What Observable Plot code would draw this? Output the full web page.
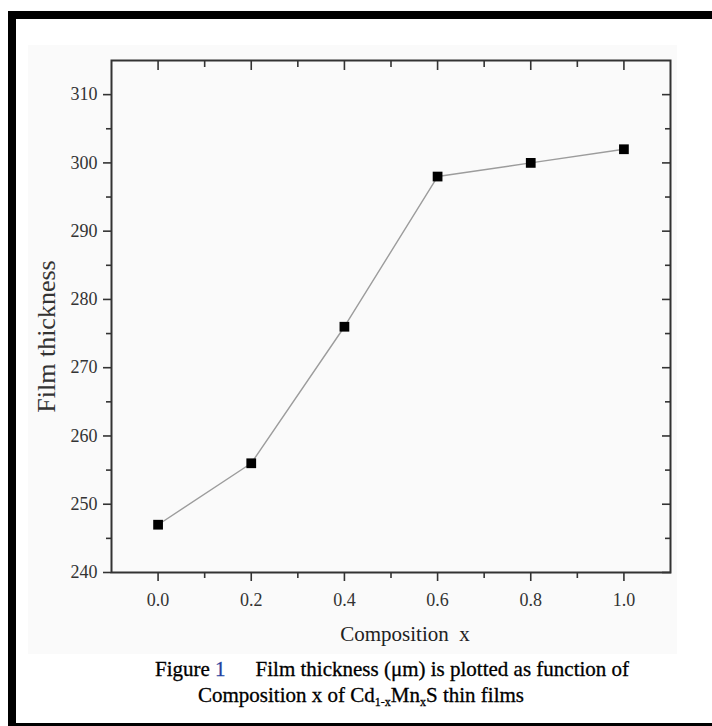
<!DOCTYPE html>
<html>
<head>
<meta charset="utf-8">
<script src="https://cdn.jsdelivr.net/npm/d3@7"></script>
<script src="https://cdn.jsdelivr.net/npm/@observablehq/plot@0.6"></script>
<style>
html, body { margin: 0; padding: 0; background: #fff; }
body { width: 712px; height: 726px; overflow: hidden; position: relative; font-family: "Liberation Serif", "Times New Roman", serif; }
#border { position: absolute; left: 8px; top: 11px; width: 800px; height: 704px; border-top: 8px solid #000; border-left: 8px solid #000; border-bottom: 8px solid #000; }
#paper { position: absolute; left: 28px; top: 45px; width: 649px; height: 609px; background: #fafafa; }
#chart { position: absolute; left: 0; top: 0; }
#chart text { white-space: pre; }
.cap { position: absolute; white-space: pre; font-size: 21px; line-height: 21px; color: #000; -webkit-text-stroke: 0.3px #000; }
.cap sub { font-size: 12px; line-height: 0; vertical-align: -4px; }
.blue { color: #1f3f9f; -webkit-text-stroke: 0.3px #1f3f9f; }
</style>
</head>
<body>
<div id="border"></div>
<div id="paper"></div>
<div id="chart"></div>
<div class="cap" id="cap1" style="left:155px; top:659px;">Figure <span class="blue">1</span><span style="margin-left:30px">Film thickness (μm) is plotted as function of</span></div>
<div class="cap" id="cap2" style="left:198px; top:685px;">Composition x of Cd<sub>1-x</sub>Mn<sub>x</sub>S thin films</div>
<script>
// ---- data ----
const compositionX = [0.0, 0.2, 0.4, 0.6, 0.8, 1.0];
const filmThickness = [247, 256, 276, 298, 300, 302];

// ---- ticks ----
const xMajorTicks = [0.0, 0.2, 0.4, 0.6, 0.8, 1.0];
const xTickLabels = ["0.0", "0.2", "0.4", "0.6", "0.8", "1.0"];
const xMinorTicks = [0.1, 0.3, 0.5, 0.7, 0.9];
const yMajorTicks = [240, 250, 260, 270, 280, 290, 300, 310];
const yTickLabels = ["240", "250", "260", "270", "280", "290", "300", "310"];
const yMinorTicks = [245, 255, 265, 275, 285, 295, 305];

// ---- titles ----
const xTitle = "Composition  x";
const yTitle = "Film thickness";

const data = compositionX.map((x, i) => ({x, y: filmThickness[i]}));

const tickStroke = "#333";
const noText = () => "";

const chart = Plot.plot({
  width: 712,
  height: 620,
  marginLeft: 111,
  marginRight: 42,
  marginTop: 60,
  marginBottom: 48,
  style: {background: "transparent", fontFamily: "'Liberation Serif', 'Times New Roman', serif", fontSize: "18px", overflow: "visible"},
  x: {domain: [-0.1, 1.1]},
  y: {domain: [240, 315]},
  marks: [
    // bottom axis
    Plot.axisX({ticks: xMajorTicks, tickSize: 9, tickPadding: 12, stroke: tickStroke, strokeWidth: 1.6, fill: "#333",
      tickFormat: d => xTickLabels[xMajorTicks.indexOf(d)], label: null}),
    Plot.axisX({ticks: xMinorTicks, tickSize: 6, stroke: tickStroke, strokeWidth: 1.6, tickFormat: noText, label: null}),
    // top mirrored inward ticks
    Plot.axisX({anchor: "top", ticks: xMajorTicks, tickSize: 9, dy: 9, stroke: tickStroke, strokeWidth: 1.6, tickFormat: noText, label: null}),
    Plot.axisX({anchor: "top", ticks: xMinorTicks, tickSize: 6, dy: 6, stroke: tickStroke, strokeWidth: 1.6, tickFormat: noText, label: null}),
    // left axis
    Plot.axisY({ticks: yMajorTicks, tickSize: 8, tickPadding: 6, stroke: tickStroke, strokeWidth: 1.6, fill: "#333",
      tickFormat: d => yTickLabels[yMajorTicks.indexOf(d)], label: null}),
    Plot.axisY({ticks: yMinorTicks, tickSize: 5, stroke: tickStroke, strokeWidth: 1.6, tickFormat: noText, label: null}),
    // right mirrored inward ticks
    Plot.axisY({anchor: "right", ticks: yMajorTicks, tickSize: 9, dx: -9, stroke: tickStroke, strokeWidth: 1.6, tickFormat: noText, label: null}),
    Plot.axisY({anchor: "right", ticks: yMinorTicks, tickSize: 6, dx: -6, stroke: tickStroke, strokeWidth: 1.6, tickFormat: noText, label: null}),
    // data
    Plot.line(data, {x: "x", y: "y", stroke: "#9c9c9c", strokeWidth: 1.4}),
    Plot.dot(data, {x: "x", y: "y", symbol: "square", r: 5.5, fill: "#000", stroke: "none"}),
    Plot.frame({stroke: "#333", strokeWidth: 2}),
    // axis titles
    Plot.text([yTitle], {text: d => d, frameAnchor: "left", rotate: -90, dx: -65, dy: 20, fontSize: 26, fill: "#333", textAnchor: "middle", lineAnchor: "middle"}),
    Plot.text([xTitle], {text: d => d, frameAnchor: "bottom", dx: 14, dy: 62, fontSize: 21, fill: "#222", textAnchor: "middle", lineAnchor: "middle"})
  ]
});
document.getElementById("chart").appendChild(chart);
</script>
</body>
</html>
